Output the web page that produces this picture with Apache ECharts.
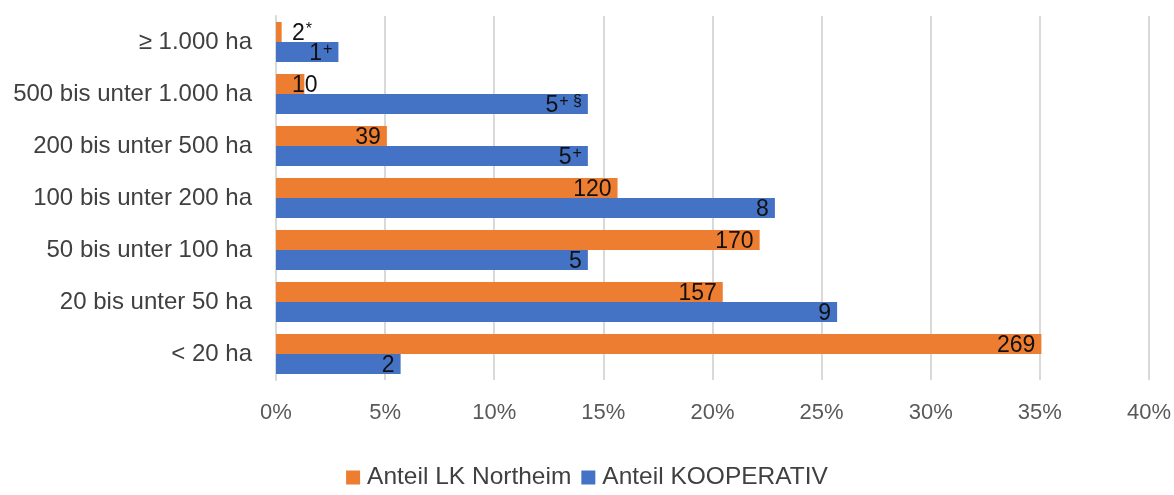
<!DOCTYPE html>
<html>
<head>
<meta charset="utf-8">
<script src="https://cdn.jsdelivr.net/npm/echarts@6/dist/echarts.min.js"></script>
<style>
  html, body { margin: 0; padding: 0; background: #fff; }
  #chart { width: 1174px; height: 495px; }
</style>
</head>
<body>
<div id="chart"></div>
<script>
"use strict";
// Kategorien von oben nach unten
var categories = ['≥ 1.000 ha', '500 bis unter 1.000 ha', '200 bis unter 500 ha', '100 bis unter 200 ha',
    '50 bis unter 100 ha', '20 bis unter 50 ha', '< 20 ha'];

// Anteile in Prozent
var shareNortheim = [0.26, 1.30, 5.08, 15.65, 22.16, 20.47, 35.07];
var shareKoop = [2.86, 14.29, 14.29, 22.86, 14.29, 25.71, 5.71];

// Beschriftungen (Anzahl Betriebe)
var labelsNortheim = ['2{sup|*}', '10', '39', '120', '170', '157', '269'];
var labelsKoop = ['1{sup|+}', '5{sup|+ §}', '5{sup|+}', '8', '5', '9', '2'];

var xTicks = [0, 5, 10, 15, 20, 25, 30, 35, 40];

var FONT = 'Liberation Sans';

var labelRich = {
    sup: { fontSize: 16, color: '#111', fontFamily: FONT, verticalAlign: 'top', padding: [0, 0, 9, 1] }
};

function buildData(values, labels) {
    return values.map(function (v, i) {
        var item = { value: v, lbl: labels[i] };
        if (v < 2) {
            item.label = { position: 'insideLeft', distance: 16 };
        }
        return item;
    });
}

var chart = echarts.init(document.getElementById('chart'));

var barLabel = {
    show: true,
    position: 'insideRight',
    distance: 6,
    offset: [0, 2],
    color: '#111',
    fontSize: 23,
    fontFamily: FONT,
    formatter: function (p) { return p.data.lbl; },
    rich: labelRich
};

chart.setOption({
    animation: false,
    textStyle: { fontFamily: FONT },
    grid: { left: 276, right: 25, top: 16, bottom: 115, containLabel: false },
    legend: {
        bottom: 0,
        left: 'center',
        itemWidth: 14,
        itemHeight: 14,
        itemGap: 10,
        icon: 'rect',
        textStyle: { fontSize: 24.5, color: '#404040', fontFamily: FONT, padding: [0, 0, 0, 2] },
        data: ['Anteil LK Northeim', 'Anteil KOOPERATIV']
    },
    xAxis: {
        type: 'value',
        min: xTicks[0],
        max: xTicks[xTicks.length - 1],
        interval: 5,
        axisLine: { show: false },
        axisTick: { show: false },
        splitLine: { show: true, lineStyle: { color: '#d9d9d9', width: 2 } },
        axisLabel: {
            formatter: '{value}%',
            fontSize: 22,
            color: '#595959',
            margin: 22,
            fontFamily: FONT
        }
    },
    yAxis: {
        type: 'category',
        inverse: true,
        data: categories,
        axisLine: { show: true, lineStyle: { color: '#d9d9d9', width: 2 } },
        axisTick: { show: false },
        axisLabel: { fontSize: 24, color: '#404040', margin: 24, fontFamily: FONT }
    },
    series: [
        {
            name: 'Anteil LK Northeim',
            type: 'bar',
            data: buildData(shareNortheim, labelsNortheim),
            itemStyle: { color: '#ED7D31' },
            barGap: '0%',
            barCategoryGap: '23%',
            label: barLabel
        },
        {
            name: 'Anteil KOOPERATIV',
            type: 'bar',
            data: buildData(shareKoop, labelsKoop),
            itemStyle: { color: '#4472C4' },
            barGap: '0%',
            barCategoryGap: '23%',
            label: barLabel
        }
    ]
});
</script>
</body>
</html>
